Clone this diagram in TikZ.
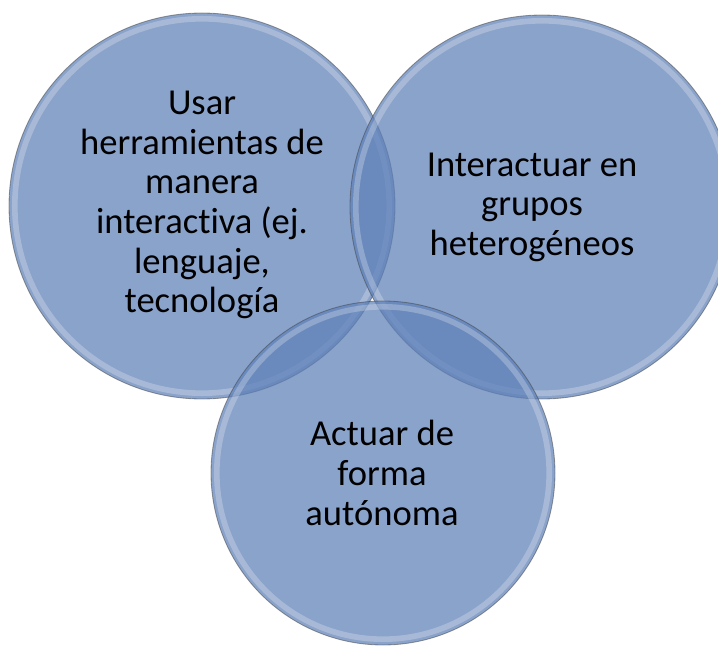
\documentclass[tikz,border=0pt]{standalone}
\usepackage{fontspec}
\setmainfont{Carlito}[Ligatures=NoCommon]
\definecolor{vennblue}{RGB}{93,127,183}

\begin{document}
\begin{tikzpicture}[every node/.style={align=center, font=\fontsize{26}{28.2}\selectfont},
    venn/.style={fill=vennblue, fill opacity=0.72, draw=black!75, draw opacity=0.5, line width=0.6pt},
    rim/.style={draw=white, draw opacity=0.25, line width=4pt}]
    \useasboundingbox (0,0) rectangle (17.95,16.125);
    \coordinate (tools) at (5.05,10.975);
    \coordinate (groups) at (13.55,10.95);
    \coordinate (autonomy) at (9.575,4.3);
    % the three circles
    \draw[venn] (tools) circle (4.825cm);
    \draw[rim] (tools) circle (4.68cm);
    \draw[venn] (groups) circle (4.8cm);
    \draw[rim] (groups) circle (4.655cm);
    \draw[venn] (autonomy) circle (4.3cm);
    \draw[rim] (autonomy) circle (4.155cm);
    % texts
    \node (toolstext) at (5.05,11.0) {Usar\\herramientas de\\manera\\interactiva (ej.\\lenguaje,\\tecnología};
    \node (groupstext) at (13.3,10.94) {Interactuar en\\grupos\\heterogéneos};
    \node (autonomytext) at (9.55,4.3) {Actuar de\\forma\\autónoma};
\end{tikzpicture}
\end{document}
